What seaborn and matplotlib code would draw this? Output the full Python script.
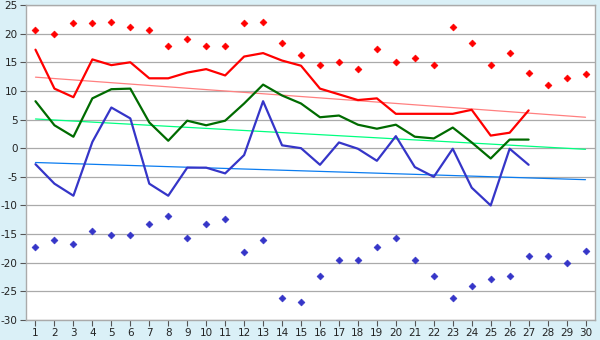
import matplotlib
matplotlib.use("Agg")
import matplotlib.pyplot as plt
import seaborn as sns
import numpy as np
import pandas as pd

days = list(range(1, 31))

# daily extremes (all 30 days)
abs_max = [20.6, 20.0, 21.8, 21.8, 22.1, 21.1, 20.6, 17.8, 19.0, 17.8,
           17.8, 21.8, 22.1, 18.3, 16.2, 14.5, 15.0, 13.9, 17.3, 15.0,
           15.7, 14.5, 21.1, 18.3, 14.5, 16.7, 13.2, 11.1, 12.2, 12.9]
abs_min = [-17.2, -16.1, -16.7, -14.4, -15.1, -15.1, -13.3, -11.8, -15.6, -13.3,
           -12.3, -18.2, -16.1, -26.1, -26.8, -22.3, -19.5, -19.5, -17.2, -15.6,
           -19.5, -22.3, -26.1, -24.0, -22.8, -22.3, -18.9, -18.9, -20.0, -17.9]

# daily series (first 27 days)
line_days = list(range(1, 28))
t_max = [17.2, 10.4, 8.9, 15.5, 14.5, 15.0, 12.2, 12.2, 13.2, 13.8,
         12.7, 16.0, 16.6, 15.3, 14.4, 10.4, 9.4, 8.4, 8.7, 6.0,
         6.0, 6.0, 6.0, 6.7, 2.2, 2.7, 6.6]
t_mean = [8.2, 4.0, 2.0, 8.7, 10.3, 10.4, 4.5, 1.3, 4.8, 4.0,
          4.8, 7.8, 11.1, 9.2, 7.8, 5.4, 5.7, 4.1, 3.4, 4.1,
          2.0, 1.7, 3.6, 1.0, -1.8, 1.5, 1.5]
t_min = [-2.8, -6.2, -8.3, 1.1, 7.1, 5.2, -6.2, -8.3, -3.4, -3.4,
         -4.4, -1.2, 8.2, 0.5, 0.0, -2.9, 1.0, -0.1, -2.2, 2.1,
         -3.3, -5.0, -0.1, -6.9, -10.0, -0.1, -2.9]

# trend lines: values at day 1 and day 30
trend_days = [1, 30]
trend_max = [12.4, 5.4]
trend_mean = [5.1, -0.2]
trend_min = [-2.5, -5.5]

y_ticks = list(range(-30, 30, 5))

RED = "#ff0000"
GREEN = "#006b00"
BLUE = "#3535c8"
BG = "#daf0f7"

sns.set_theme(style="white")
plt.rcParams["font.family"] = ["DejaVu Sans"]

fig = plt.figure(figsize=(6.0, 3.4), dpi=100, facecolor=BG)
ax = fig.add_axes([26 / 600, 1 - 320 / 340, 569 / 600, 315 / 340])
ax.set_facecolor("white")

lines = pd.DataFrame({"day": line_days, "max": t_max, "mean": t_mean, "min": t_min})
trends = pd.DataFrame({"day": trend_days, "max": trend_max, "mean": trend_mean, "min": trend_min})
extremes = pd.DataFrame({"day": days, "hi": abs_max, "lo": abs_min})

for col, c in (("max", "#ff8080"), ("mean", "#00ff80"), ("min", "#0a7cf0")):
    sns.lineplot(data=trends, x="day", y=col, color=c, linewidth=0.9, ax=ax, zorder=2)

sns.lineplot(data=lines, x="day", y="max", color=RED, linewidth=1.6, ax=ax, zorder=3)
sns.lineplot(data=lines, x="day", y="mean", color=GREEN, linewidth=1.6, ax=ax, zorder=3)
sns.lineplot(data=lines, x="day", y="min", color=BLUE, linewidth=1.6, ax=ax, zorder=3)

sns.scatterplot(data=extremes, x="day", y="hi", color=RED, marker="D", s=12,
                edgecolor=RED, linewidth=0.5, ax=ax, zorder=4)
sns.scatterplot(data=extremes, x="day", y="lo", color=BLUE, marker="D", s=12,
                edgecolor=BLUE, linewidth=0.5, ax=ax, zorder=4)

ax.set_xlim(0.5, 30.5)
ax.set_ylim(-30, 25)
ax.set_xticks(days)
ax.set_xticklabels([str(d) for d in days])
ax.set_yticks(y_ticks)
ax.set_yticklabels([str(v) for v in y_ticks])
ax.set_xlabel("")
ax.set_ylabel("")

ax.grid(axis="y", color="#aaaaaa", linewidth=0.9)
ax.set_axisbelow(True)
for s in ax.spines.values():
    s.set_color("#aaaaaa")
    s.set_linewidth(1.0)

ax.tick_params(axis="both", which="both", direction="out", length=4, width=0.8,
               color="#555555", labelsize=7.5, labelcolor="#222222", pad=2,
               left=True, bottom=True)

fig.savefig("out.png", dpi=100, facecolor=BG)
